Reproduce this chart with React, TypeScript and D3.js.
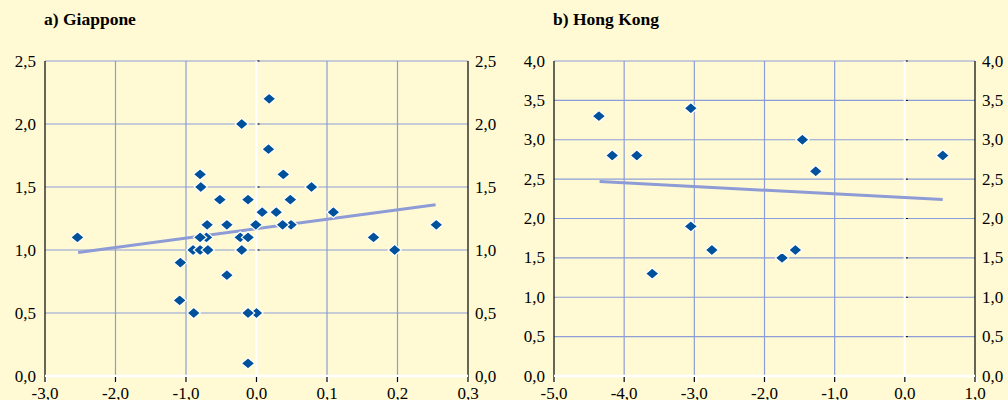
import React from "react";
import * as d3 from "d3";

// ---- a) Giappone ----
const jpX = [-2.54, -1.08, -1.09, -0.89, -0.90, -0.80, -0.69, -0.71, -0.80, -0.80, -0.79, -0.70, -0.52, -0.42, -0.42, -0.21, -0.23, -0.21, -0.12, -0.12, 0.0, -0.12, -0.12, -0.01, 0.08, 0.18, 0.17, 0.28, 0.49, 0.37, 0.38, 0.48, 0.78, 1.09, 1.66, 1.96, 2.55];
const jpY = [1.1, 0.9, 0.6, 0.5, 1.0, 1.0, 1.0, 1.1, 1.1, 1.6, 1.5, 1.2, 1.4, 1.2, 0.8, 2.0, 1.1, 1.0, 1.1, 1.4, 0.5, 0.5, 0.1, 1.2, 1.3, 2.2, 1.8, 1.3, 1.2, 1.2, 1.6, 1.4, 1.5, 1.3, 1.1, 1.0, 1.2];
const jpTrendX = [-2.53, 2.54];
const jpTrendY = [0.98, 1.36];
const jpXTicks = [-3, -2, -1, 0, 1, 2, 3];
const jpXTickLabels = ["-3,0", "-2,0", "-1,0", "0,0", "0,1", "0,2", "0,3"];
const jpYTicks = [0, 0.5, 1, 1.5, 2, 2.5];

// ---- b) Hong Kong ----
const hkX = [-4.36, -4.17, -3.82, -3.05, -3.05, -2.75, -3.60, -1.46, -1.27, 0.54, -1.56, -1.75];
const hkY = [3.3, 2.8, 2.8, 3.4, 1.9, 1.6, 1.3, 3.0, 2.6, 2.8, 1.6, 1.5];
const hkTrendX = [-4.35, 0.54];
const hkTrendY = [2.47, 2.24];
const hkXTicks = [-5, -4, -3, -2, -1, 0, 1];
const hkXTickLabels = ["-5,0", "-4,0", "-3,0", "-2,0", "-1,0", "0,0", "1,0"];
const hkYTicks = [0, 0.5, 1, 1.5, 2, 2.5, 3, 3.5, 4];

const BG = "#FFFAD3";
const GRID = "#8C9DD8";
const MARK = "#00519B";
const TREND = "#8D9BD6";
const FONT = "'Liberation Serif', 'Times New Roman', serif";

type PanelProps = {
  title: string;
  left: number;
  right: number;
  xs: number[];
  ys: number[];
  trendX: number[];
  trendY: number[];
  xTicks: number[];
  xTickLabels: string[];
  yTicks: number[];
};

const fmtY = (v: number) => v.toFixed(1).replace(".", ",");

function Panel(p: PanelProps) {
  const top = 61;
  const bottom = 376;
  const x = d3.scaleLinear().domain([p.xTicks[0], p.xTicks[p.xTicks.length - 1]]).range([p.left, p.right]);
  const y = d3.scaleLinear().domain([0, p.yTicks[p.yTicks.length - 1]]).range([bottom, top]);
  const line = d3.line<number>().x((_, i) => x(p.trendX[i])).y((_, i) => y(p.trendY[i]));
  const zeroX = x(0);
  const diamond = (cx: number, cy: number) =>
    `M${cx},${cy - 5.6} L${cx + 6.6},${cy} L${cx},${cy + 5.6} L${cx - 6.6},${cy} Z`;
  return (
    <g>
      <text x={p.left - 1} y={25} fontFamily={FONT} fontWeight="bold" fontSize={17.5} fill="#000">{p.title}</text>
      {p.yTicks.map((t) => (
        <line key={"gy" + t} x1={p.left} x2={p.right} y1={y(t)} y2={y(t)} stroke={GRID} strokeWidth={1.2} />
      ))}
      {p.xTicks.slice(1, -1).map((t) => (
        <line key={"gx" + t} x1={x(t)} x2={x(t)} y1={top} y2={bottom} stroke={GRID} strokeWidth={1.2} />
      ))}
      <line x1={zeroX} x2={zeroX} y1={top} y2={bottom} stroke="#fff" strokeWidth={2.5} />
      {p.yTicks.slice(1).map((t) => (
        <line key={"zt" + t} x1={zeroX + 1} x2={zeroX + 3} y1={y(t)} y2={y(t)} stroke="#000" strokeWidth={1} />
      ))}
      <line x1={p.left} x2={p.left} y1={top} y2={bottom + 1} stroke="#000" strokeWidth={1.2} />
      <line x1={p.right} x2={p.right} y1={top} y2={bottom + 1} stroke="#000" strokeWidth={1.2} />
      <line x1={p.left} x2={p.right} y1={bottom} y2={bottom} stroke="#fff" strokeWidth={2.5} />
      {p.xTicks.map((t) => (
        <g key={"xt" + t}>
          <line x1={x(t) + 1.5} x2={x(t) + 1.5} y1={bottom + 1} y2={bottom + 7} stroke="#fff" strokeWidth={1.5} />
          <line x1={x(t)} x2={x(t)} y1={bottom + 1} y2={bottom + 6} stroke="#000" strokeWidth={1.2} />
        </g>
      ))}
      {p.xTicks.map((t, i) => (
        <text key={"xl" + t} x={x(t)} y={399} textAnchor="middle" fontFamily={FONT} fontSize={17} fill="#000">
          {p.xTickLabels[i]}
        </text>
      ))}
      {p.yTicks.map((t) => (
        <text key={"yl" + t} x={p.left - 9} y={y(t) + 5.5} textAnchor="end" fontFamily={FONT} fontSize={17} fill="#000">
          {fmtY(t)}
        </text>
      ))}
      {p.yTicks.map((t) => (
        <text key={"yr" + t} x={p.right + 7} y={y(t) + 5.5} textAnchor="start" fontFamily={FONT} fontSize={17} fill="#000">
          {fmtY(t)}
        </text>
      ))}
      <path d={line(p.trendX) || ""} stroke={TREND} strokeWidth={3} fill="none" />
      {p.xs.map((v, i) => (
        <path key={"pt" + i} d={diamond(x(v), y(p.ys[i]))} fill={MARK} stroke="#fff" strokeWidth={1.2} />
      ))}
    </g>
  );
}

export default function App() {
  return (
    <svg width={1008} height={400} style={{ position: "absolute", left: 0, top: 0, display: "block" }}>
      <rect x={0} y={0} width={1008} height={400} fill={BG} />
      <Panel title="a) Giappone" left={45} right={468} xs={jpX} ys={jpY} trendX={jpTrendX} trendY={jpTrendY}
        xTicks={jpXTicks} xTickLabels={jpXTickLabels} yTicks={jpYTicks} />
      <Panel title="b) Hong Kong" left={554} right={975} xs={hkX} ys={hkY} trendX={hkTrendX} trendY={hkTrendY}
        xTicks={hkXTicks} xTickLabels={hkXTickLabels} yTicks={hkYTicks} />
    </svg>
  );
}
